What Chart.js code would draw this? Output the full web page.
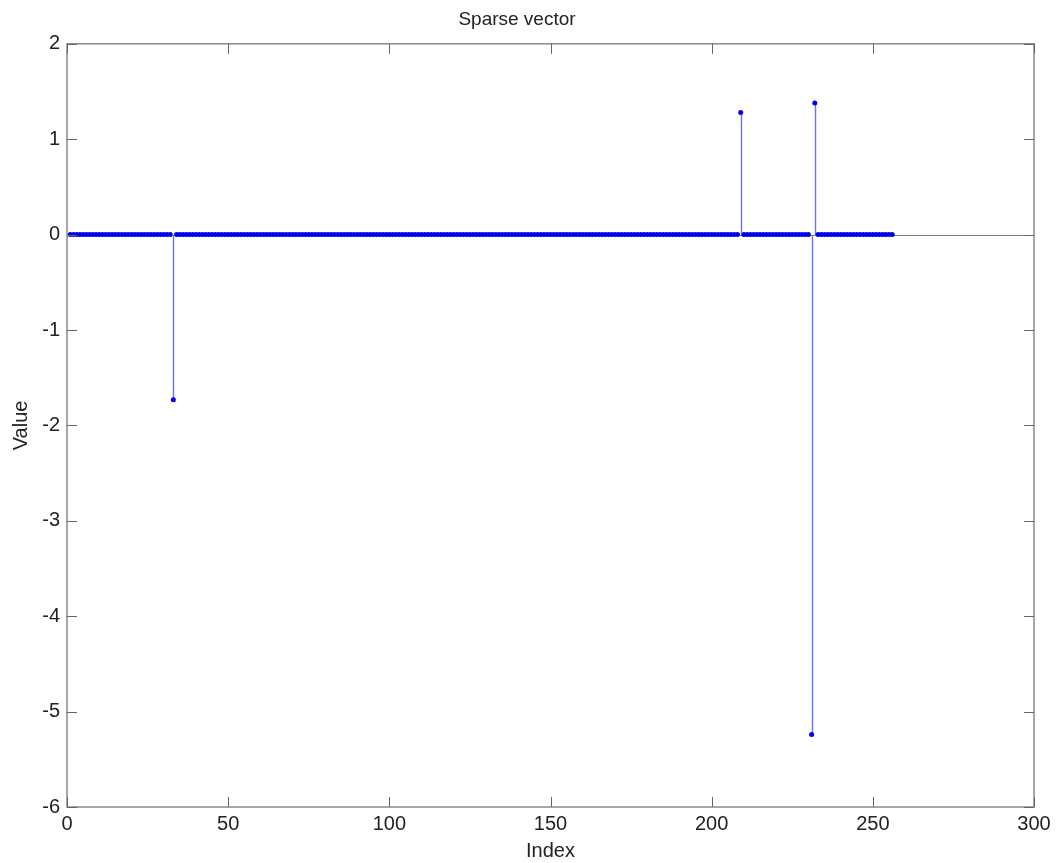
<!DOCTYPE html>
<html>
<head>
<meta charset="utf-8">
<title>Sparse vector</title>
<script src="https://cdn.jsdelivr.net/npm/chart.js@4"></script>
<style>
  html, body { margin: 0; padding: 0; background: #fff; }
  #wrap { width: 1057px; height: 863px; }
</style>
</head>
<body>
<div id="wrap"><canvas id="stemChart"></canvas></div>
<script>
// sparse vector: length and the few nonzero entries
const vectorLength = 256
const spikeIndex = [33, 209, 231, 232]
const spikeValue = [-1.73, 1.28, -5.24, 1.38]
const xTicks = [0, 50, 100, 150, 200, 250, 300]
const yTicks = [-6, -5, -4, -3, -2, -1, 0, 1, 2]

const points = []
for (let i = 1; i <= vectorLength; i++) {
  const k = spikeIndex.indexOf(i)
  points.push({ x: i, y: k >= 0 ? spikeValue[k] : 0 })
}

const FRAME = '#8a8a8a'
const TICK_LEN = 10

// baseline + stems under the markers
const stems = {
  id: 'stems',
  beforeDatasetsDraw(chart) {
    const { ctx, chartArea: a, scales: { x, y } } = chart
    const y0 = Math.round(y.getPixelForValue(0)) + 0.5
    ctx.save()
    ctx.strokeStyle = '#808080'
    ctx.lineWidth = 1
    ctx.beginPath()
    ctx.moveTo(a.left, y0)
    ctx.lineTo(a.right, y0)
    ctx.stroke()

    ctx.strokeStyle = '#7070ff'
    ctx.lineWidth = 1.4
    points.forEach(p => {
      if (p.y === 0) return
      const px = Math.round(x.getPixelForValue(p.x)) + 0.5
      ctx.beginPath()
      ctx.moveTo(px, y0)
      ctx.lineTo(px, y.getPixelForValue(p.y))
      ctx.stroke()
    })
    ctx.restore()
  }
}

// box with inward ticks on all four sides
const frame = {
  id: 'frame',
  afterDraw(chart) {
    const { ctx, chartArea: a, scales: { x, y } } = chart
    ctx.save()
    ctx.strokeStyle = FRAME
    ctx.lineWidth = 1.5
    ctx.strokeRect(a.left, a.top, a.right - a.left, a.bottom - a.top)
    ctx.lineWidth = 1
    ctx.strokeStyle = '#666'
    ctx.beginPath()
    xTicks.forEach(v => {
      const px = Math.round(x.getPixelForValue(v)) + 0.5
      ctx.moveTo(px, a.bottom); ctx.lineTo(px, a.bottom - TICK_LEN)
      ctx.moveTo(px, a.top);    ctx.lineTo(px, a.top + TICK_LEN)
    })
    yTicks.forEach(v => {
      const py = Math.round(y.getPixelForValue(v)) + 0.5
      ctx.moveTo(a.left, py);  ctx.lineTo(a.left + TICK_LEN, py)
      ctx.moveTo(a.right, py); ctx.lineTo(a.right - TICK_LEN, py)
    })
    ctx.stroke()
    ctx.restore()
  }
}

const font = { family: '"Liberation Sans", Arial, sans-serif', size: 20 }

new Chart(document.getElementById('stemChart'), {
  type: 'scatter',
  data: {
    datasets: [{
      data: points,
      pointRadius: 2.5,
      pointBorderWidth: 0,
      pointBackgroundColor: '#0000ee',
      showLine: false
    }]
  },
  options: {
    responsive: true, maintainAspectRatio: false,
    animation: false,
    layout: { padding: { left: 0, right: 23, top: 0, bottom: 0 } },
    plugins: {
      legend: { display: false },
      tooltip: { enabled: false },
      title: {
        display: true, text: 'Sparse vector', color: '#222',
        font: { ...font, size: 19, weight: 'normal' },
        padding: { top: 8, bottom: 13 }
      }
    },
    scales: {
      x: {
        type: 'linear', min: 0, max: 300,
        afterBuildTicks: s => { s.ticks = xTicks.map(v => ({ value: v })) },
        afterFit: s => { s.height = 56 },
        grid: { display: false, drawTicks: false },
        border: { display: false },
        ticks: { color: '#222', font, padding: 5, maxRotation: 0 },
        title: { display: true, text: 'Index', color: '#222', font, padding: { top: 0, bottom: 0 } }
      },
      y: {
        type: 'linear', min: -6, max: 2,
        afterBuildTicks: s => { s.ticks = yTicks.map(v => ({ value: v })) },
        afterFit: s => { s.width = 67 },
        grid: { display: false, drawTicks: false },
        border: { display: false },
        ticks: { color: '#222', font, padding: 7 },
        title: { display: true, text: 'Value', color: '#222', font, padding: { top: 9, bottom: 0 } }
      }
    }
  },
  plugins: [stems, frame]
})
</script>
</body>
</html>
